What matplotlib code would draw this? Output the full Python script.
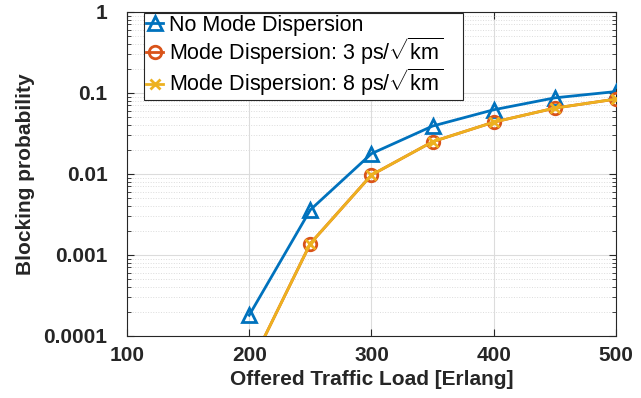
import matplotlib
matplotlib.use("Agg")
import matplotlib.pyplot as plt
from matplotlib.ticker import LogLocator, NullFormatter, FixedLocator

load = [200, 250, 300, 350, 400, 450, 500]
no_md = [1.8e-4, 0.0036, 0.0178, 0.039, 0.062, 0.087, 0.104]
md_3 = [4e-5, 0.00138, 0.0097, 0.025, 0.0436, 0.065, 0.084]
md_8 = [4e-5, 0.00138, 0.0097, 0.025, 0.0436, 0.065, 0.084]

x_ticks = [100, 200, 300, 400, 500]
y_ticks = [1e-4, 1e-3, 1e-2, 1e-1, 1]
y_ticklabels = ["0.0001", "0.001", "0.01", "0.1", "1"]

BLUE = "#0072BD"
ORANGE = "#D95319"
YELLOW = "#EDB120"

plt.rcParams["font.family"] = ["Liberation Sans", "DejaVu Sans"]
plt.rcParams["mathtext.fontset"] = "custom"
plt.rcParams["mathtext.rm"] = "Liberation Sans"

fig = plt.figure(figsize=(6.41, 3.98), dpi=100)
ax = fig.add_axes([0.198, 0.156, 0.763, 0.814])

ax.plot(load, no_md, color=BLUE, linewidth=2, marker="^", markersize=10,
        markerfacecolor="none", markeredgewidth=2, label="No Mode Dispersion", zorder=3)
ax.plot(load, md_3, color=ORANGE, linewidth=2, marker="o", markersize=9,
        markerfacecolor="none", markeredgewidth=2,
        label=r"Mode Dispersion: 3 ps/$\sqrt{\mathrm{km}}$    ", zorder=3)
ax.plot(load, md_8, color=YELLOW, linewidth=2, marker="x", markersize=7,
        markeredgewidth=2, label=r"Mode Dispersion: 8 ps/$\sqrt{\mathrm{km}}$    ", zorder=4)

ax.set_yscale("log")
ax.set_xlim(100, 500)
ax.set_ylim(1e-4, 1)
ax.xaxis.set_major_locator(FixedLocator(x_ticks))
ax.set_xticklabels([str(v) for v in x_ticks], fontweight="bold", fontsize=15, color="#262626")
ax.yaxis.set_major_locator(FixedLocator(y_ticks))
ax.set_yticklabels(y_ticklabels, fontweight="bold", fontsize=15, color="#262626")
ax.yaxis.set_minor_locator(LogLocator(base=10, subs=range(2, 10)))
ax.yaxis.set_minor_formatter(NullFormatter())
ax.tick_params(which="both", direction="in", top=True, right=True, color="#262626")
ax.tick_params(which="major", length=5)
ax.tick_params(which="minor", length=3)
ax.tick_params(axis="x", which="major", pad=7)
ax.tick_params(axis="y", which="major", pad=14)

ax.grid(which="major", color="#dcdcdc", linewidth=0.8, linestyle="-")
ax.grid(which="minor", axis="y", color="#dcdcdc", linewidth=0.7, linestyle=":")
ax.set_axisbelow(True)
for spine in ax.spines.values():
    spine.set_color("#262626")

ax.set_xlabel("Offered Traffic Load [Erlang]", fontweight="bold", fontsize=15,
              color="#262626", labelpad=4)
ax.set_ylabel("Blocking probability", fontweight="bold", fontsize=15,
              color="#262626", labelpad=6)

leg = ax.legend(loc="upper left", bbox_to_anchor=(0.035, 0.998), fontsize=15.5, frameon=True,
                fancybox=False, edgecolor="#262626", framealpha=1,
                handlelength=0.8, handletextpad=0.25, borderpad=0.1, labelspacing=0.0,
                borderaxespad=0.0)
leg.get_frame().set_linewidth(0.8)

fig.savefig("out.png", dpi=100)
